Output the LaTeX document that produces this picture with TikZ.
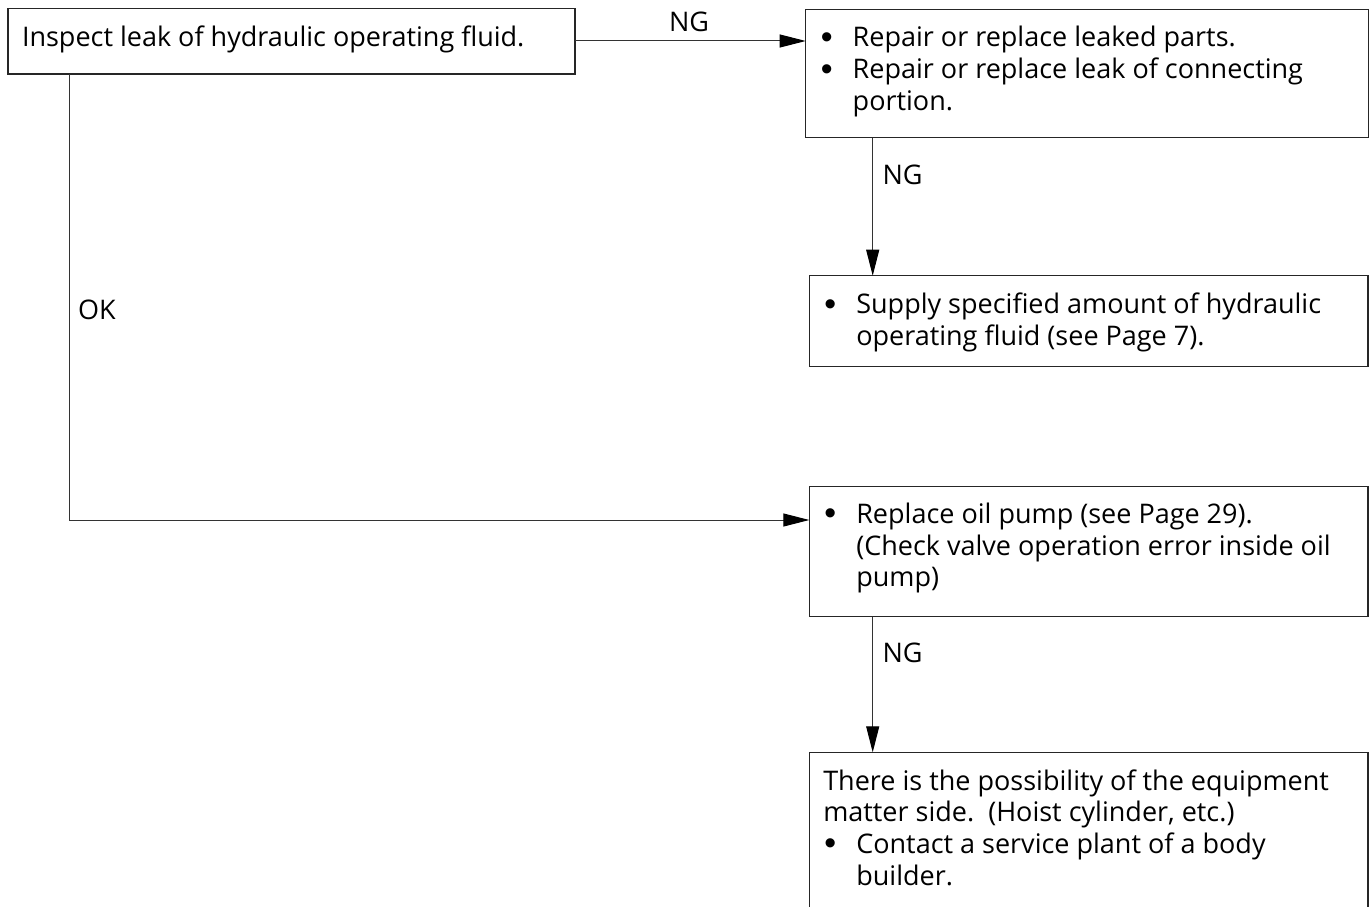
\documentclass[tikz,border=0pt]{standalone}
\usepackage{fontspec}
\setmainfont{Open Sans}
\newfontfamily\bulfont{Liberation Sans}
\usetikzlibrary{arrows.meta}
\newcommand\bl[1]{\hbox{\hbox to 42pt{\hss\raisebox{-1.5pt}{\scalebox{1.25}{\bulfont\textbullet}}\hss}\hskip5pt #1}}
\newcommand\cl[1]{\hbox{\hskip47pt #1}}
\newcommand\pl[1]{\hbox{\hskip14pt #1}}
\newcommand\blk[1]{\vtop{\baselineskip=31.7pt\lineskiplimit=-100pt #1}}
\begin{document}
\begin{tikzpicture}[x=1pt,y=-1pt,
  box/.style={draw=black!85,line width=1.2pt,anchor=north west,inner sep=0pt,outer sep=0pt},
  txt/.style={anchor=base west,inner sep=0pt,outer sep=0pt,font=\fontsize{27}{31.7}\selectfont},
  conn/.style={draw=black!80,line width=1pt},
  arr/.style={conn,-{Triangle[length=26pt,width=13pt,color=black]}}]
\useasboundingbox[fill=white] (0,0) rectangle (1370,907);
% boxes
\node[box,minimum width=567pt,minimum height=65.7pt] (b1) at (8,8.3) {};
\node[box,minimum width=562.6pt,minimum height=128.4pt] (b2) at (805.7,9.3) {};
\node[box,minimum width=558.7pt,minimum height=91pt] (b3) at (809.3,275.7) {};
\node[box,minimum width=558.7pt,minimum height=130pt] (b4) at (809.3,486.7) {};
\node[anchor=north west,inner sep=0pt,outer sep=0pt,minimum width=558.7pt,minimum height=200pt] (b5) at (809.3,752.3) {};
\draw[draw=black!85,line width=1.2pt] (b5.south west) -- (b5.north west) -- (b5.north east) -- (b5.south east);
% texts
\node[txt] (t1) at (8,46.7) {\blk{\pl{Inspect leak of hydraulic operating fluid.}}};
\node[txt] (t2) at (805.7,47) {\blk{\bl{Repair or replace leaked parts.}\bl{Repair or replace leak of connecting}\cl{portion.}}};
\node[txt] (t3) at (809.3,313.5) {\blk{\bl{Supply specified amount of hydraulic}\cl{operating fluid (see Page 7).}}};
\node[txt] (t4) at (809.3,523.3) {\blk{\bl{Replace oil pump (see Page 29).}\cl{(Check valve operation error inside oil}\cl{pump)}}};
\node[txt] (t5) at (809.3,790) {\blk{\pl{There is the possibility of the equipment}\pl{matter side.\ \ (Hoist cylinder, etc.)}\bl{Contact a service plant of a body}\cl{builder.}}};
% labels
\node[txt] (ng1) at (669,31.7) {NG};
\node[txt] (ng2) at (882.5,184) {NG};
\node[txt] (ok) at (78,319.3) {OK};
\node[txt] (ng3) at (882.5,662) {NG};
% connectors
\coordinate (h1) at (0,41);
\coordinate (h2) at (0,520);
\coordinate (v0) at (69,0);
\coordinate (v1) at (872.7,0);
\draw[arr] (b1.east |- h1) -- (b2.west |- h1);
\draw[arr] (b2.south -| v1) -- (b3.north -| v1);
\draw[arr] (b1.south -| v0) |- (b4.west |- h2);
\draw[arr] (b4.south -| v1) -- (b5.north -| v1);
\end{tikzpicture}
\end{document}
